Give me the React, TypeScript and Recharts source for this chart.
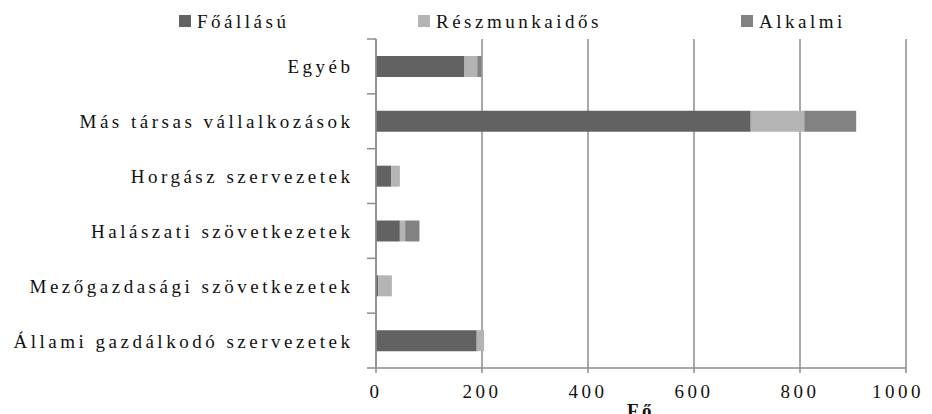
import React from "react"
import { BarChart, Bar, XAxis, YAxis, CartesianGrid } from "recharts"

// categories, top to bottom
const categories = [
  "Egyéb",
  "Más társas vállalkozások",
  "Horgász szervezetek",
  "Halászati szövetkezetek",
  "Mezőgazdasági szövetkezetek",
  "Állami gazdálkodó szervezetek",
]

const foallasu = [167, 707, 29, 45, 4, 190]
const reszmunkaidos = [24, 101, 16, 10, 26, 14]
const alkalmi = [8, 98, 0, 27, 0, 0]

const xTicks = [0, 200, 400, 600, 800, 1000]

const seriesNames = ["Főállású", "Részmunkaidős", "Alkalmi"]
const seriesKeys = ["foallasu", "reszmunkaidos", "alkalmi"]
const seriesColors = ["#626262", "#b4b4b4", "#828282"]

const data = categories.map((c, i) => ({
  category: c,
  foallasu: foallasu[i],
  reszmunkaidos: reszmunkaidos[i],
  alkalmi: alkalmi[i],
}))

const W = 916
const H = 406
const MARGIN = { top: 31, right: 18, bottom: 0, left: 0 }
const Y_WIDTH = 368
const X_HEIGHT = 46
const FONT = "'Liberation Serif', 'Times New Roman', serif"
const LS = 3.5
const AXIS_COLOR = "#8c8c8c"

const band = (H - MARGIN.top - MARGIN.bottom - X_HEIGHT) / categories.length

// legend x positions (chart coords)
const legendX = [171, 410, 733]

const CategoryTick = (props: any) => {
  const { x, y, payload, index } = props
  return (
    <g>
      <text
        x={x - 26 + LS}
        y={y}
        dy={7}
        textAnchor="end"
        fontFamily={FONT}
        fontSize={19}
        letterSpacing={LS}
        fill="#111"
      >
        {payload.value}
      </text>
      <line x1={x - 9} x2={x} y1={y + band / 2} y2={y + band / 2} stroke={AXIS_COLOR} strokeWidth={1.5} />
      {index === 0 && (
        <line x1={x - 9} x2={x} y1={y - band / 2} y2={y - band / 2} stroke={AXIS_COLOR} strokeWidth={1.5} />
      )}
    </g>
  )
}

const Legend = () => (
  <svg width={W} height={30} style={{ position: "absolute", left: 0, top: 0 }}>
    {seriesNames.map((n, i) => (
      <g key={n}>
        <rect x={legendX[i]} y={7} width={12} height={12} fill={seriesColors[i]} />
        <text x={legendX[i] + 18} y={20} fontFamily={FONT} fontSize={19} letterSpacing={LS} fill="#111">
          {n}
        </text>
      </g>
    ))}
  </svg>
)

export default function App() {
  return (
    <div style={{ position: "relative", width: W, height: H }}>
      <BarChart width={W} height={H} data={data} layout="vertical" margin={MARGIN} barSize={21}>
        <CartesianGrid horizontal={false} stroke={AXIS_COLOR} strokeWidth={1.5} />
        <XAxis
          type="number"
          domain={[0, 1000]}
          ticks={xTicks}
          height={X_HEIGHT}
          stroke={AXIS_COLOR}
          strokeWidth={1.5}
          tickSize={5}
          tickMargin={12}
          tick={{ fontFamily: FONT, fontSize: 19, letterSpacing: LS, fill: "#111" }}
          label={{
            value: "Fő",
            position: "insideBottom",
            offset: -3,
            style: { fontFamily: FONT, fontSize: 19, fontWeight: "bold", letterSpacing: LS, fill: "#111" },
          }}
        />
        <YAxis
          type="category"
          dataKey="category"
          width={Y_WIDTH}
          stroke={AXIS_COLOR}
          strokeWidth={1.5}
          tickLine={false}
          tickSize={0}
          tickMargin={0}
          tick={<CategoryTick />}
          interval={0}
        />
        {seriesKeys.map((k, i) => (
          <Bar key={k} dataKey={k} name={seriesNames[i]} stackId="a" fill={seriesColors[i]} isAnimationActive={false} />
        ))}
      </BarChart>
      <Legend />
    </div>
  )
}
